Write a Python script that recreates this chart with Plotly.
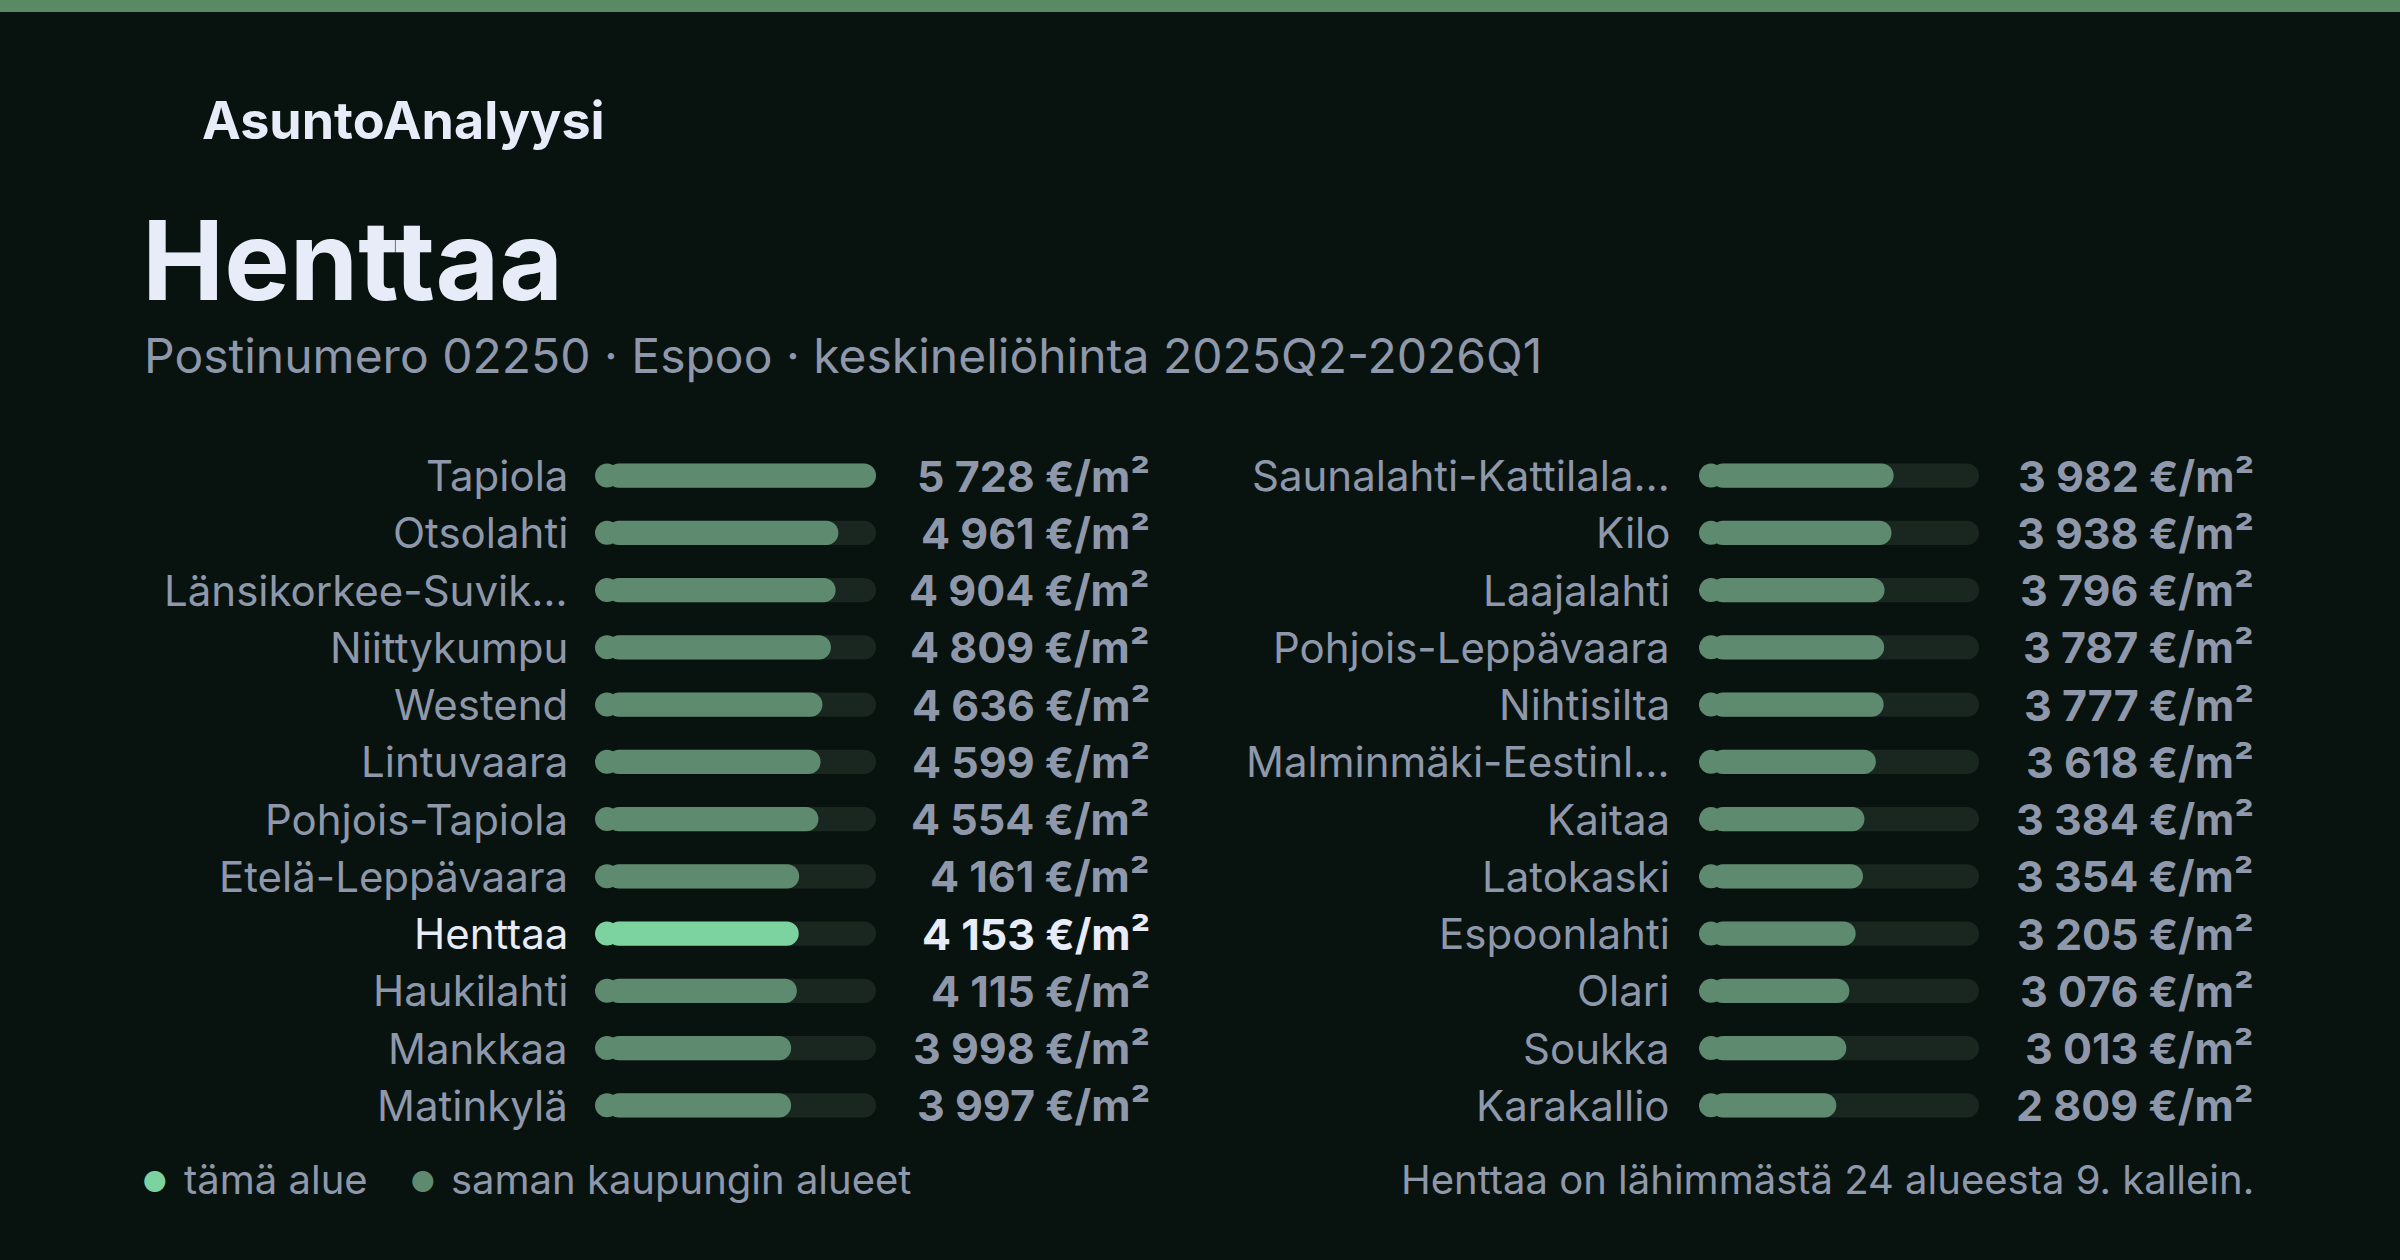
import plotly.graph_objects as go

left_names = ["Tapiola", "Otsolahti", "Länsikorkee-Suvik…", "Niittykumpu", "Westend", "Lintuvaara",
              "Pohjois-Tapiola", "Etelä-Leppävaara", "Henttaa", "Haukilahti", "Mankkaa", "Matinkylä"]
left_values = [5728, 4961, 4904, 4809, 4636, 4599, 4554, 4161, 4153, 4115, 3998, 3997]
right_names = ["Saunalahti-Kattilala…", "Kilo", "Laajalahti", "Pohjois-Leppävaara", "Nihtisilta",
               "Malminmäki-Eestinl…", "Kaitaa", "Latokaski", "Espoonlahti", "Olari", "Soukka", "Karakallio"]
right_values = [3982, 3938, 3796, 3787, 3777, 3618, 3384, 3354, 3205, 3076, 3013, 2809]
current = "Henttaa"

BG = "#08130f"
BAR = "#5e8a70"
HI = "#7dd3a0"
TRACK = "#1a2620"
WHITE = "#e8ecf8"
GREY = "#8f98ab"
FONT = "Inter"
W, H = 2400, 1260
vmax = max(left_values + right_values)
TRACK_PX = 281
CAP_PX = 12
cap = vmax * CAP_PX / TRACK_PX  # radius of the rounded bar start, in data units

fig = go.Figure()
panels = [
    (left_names, left_values, "x", "y", 570),
    (right_names, right_values, "x2", "y2", 1672),
]
val_pos = {"y": 1152, "y2": 2256}
annotations = []
for names, values, xa, ya, lab_x in panels:
    rows = list(range(len(names)))
    colors = [HI if n == current else BAR for n in names]
    for vals, col in (([vmax] * len(rows), TRACK), (values, colors)):
        fig.add_trace(go.Bar(x=[v - cap for v in vals], base=cap, y=rows, orientation="h",
                             xaxis=xa, yaxis=ya, marker=dict(color=col, cornerradius="50%", line_width=0),
                             width=0.42, hoverinfo="skip"))
    # round start cap of each bar (the track start is always covered by it)
    fig.add_trace(go.Scatter(x=[cap] * len(rows), y=rows, mode="markers", xaxis=xa, yaxis=ya,
                             marker=dict(color=colors, size=2 * CAP_PX, line_width=0), hoverinfo="skip"))
    for r, n, v in zip(rows, names, values):
        hi = n == current
        annotations.append(dict(x=lab_x / W, xref="paper", y=r, yref=ya, text=n, showarrow=False,
                                xanchor="right", font=dict(size=42, color=WHITE if hi else GREY, family=FONT)))
        annotations.append(dict(x=val_pos[ya] / W, xref="paper", y=r, yref=ya,
                                text="<b>" + f"{v:,}".replace(",", " ") + " €/m²</b>", showarrow=False,
                                xanchor="right", font=dict(size=43, color=WHITE if hi else GREY, family=FONT)))

ydom = [1 - 1134 / H, 1 - 447 / H]
axis_common = dict(visible=False, fixedrange=True)
fig.update_layout(
    width=W, height=H, margin=dict(l=0, r=0, t=0, b=0),
    paper_bgcolor=BG, plot_bgcolor=BG, showlegend=False, barmode="overlay",
    xaxis=dict(domain=[595 / W, 876 / W], range=[0, vmax], **axis_common),
    xaxis2=dict(domain=[1699 / W, 1979 / W], range=[0, vmax], **axis_common),
    yaxis=dict(domain=ydom, range=[11.5, -0.5], **axis_common),
    yaxis2=dict(domain=ydom, range=[11.5, -0.5], anchor="x2", **axis_common),
    shapes=[dict(type="rect", xref="paper", yref="paper", x0=0, x1=1, y0=1 - 12 / H, y1=1,
                 fillcolor="#5a8a64", line_width=0)],
)
annotations += [
    dict(x=200 / W, y=1 - 120 / H, text="<b>AsuntoAnalyysi</b>", font=dict(size=52, color=WHITE, family=FONT)),
    dict(x=140 / W, y=1 - 260 / H, text="<b>Henttaa</b>", font=dict(size=110, color=WHITE, family=FONT)),
    dict(x=142 / W, y=1 - 355 / H, text="Postinumero 02250 · Espoo · keskineliöhinta 2025Q2-2026Q1",
         font=dict(size=48, color=GREY, family=FONT)),
    dict(x=140 / W, y=1 - 1182 / H, text="●", font=dict(size=28, color=HI, family=FONT)),
    dict(x=182 / W, y=1 - 1179 / H, text="tämä alue", font=dict(size=40, color=GREY, family=FONT)),
    dict(x=408 / W, y=1 - 1182 / H, text="●", font=dict(size=28, color=BAR, family=FONT)),
    dict(x=449 / W, y=1 - 1179 / H, text="saman kaupungin alueet", font=dict(size=40, color=GREY, family=FONT)),
    dict(x=2256 / W, y=1 - 1179 / H, text="Henttaa on lähimmästä 24 alueesta 9. kallein.", xanchor="right",
         font=dict(size=40, color=GREY, family=FONT)),
]
for a in annotations[-8:]:
    a.setdefault("xanchor", "left")
    a.update(xref="paper", yref="paper", showarrow=False, yanchor="middle")
fig.update_layout(annotations=annotations)
fig.write_html("out.html", config={"displayModeBar": False},
               post_script="document.body.style.margin='0';")
